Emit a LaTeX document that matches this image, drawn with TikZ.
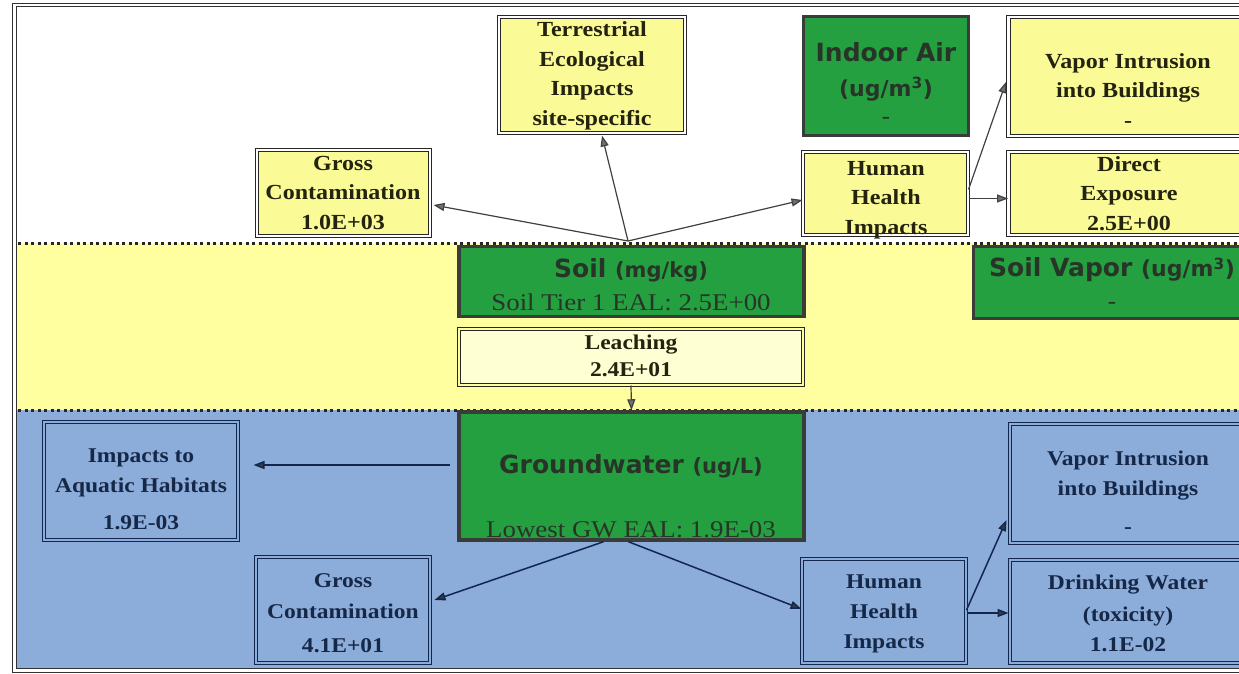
\documentclass[tikz,border=0pt]{standalone}
\usepackage{fontspec}
\setmainfont{Liberation Serif}[FakeStretch=1.12]
\newfontfamily\gsans{DejaVu Sans}
\usetikzlibrary{arrows.meta}
\definecolor{ybox}{RGB}{250,250,150}
\definecolor{yband}{RGB}{255,255,160}
\definecolor{ypale}{RGB}{255,255,212}
\definecolor{bband}{RGB}{140,172,218}
\definecolor{gbox}{RGB}{36,160,64}
\definecolor{navy}{RGB}{18,38,78}
\definecolor{gborder}{RGB}{58,60,58}
\definecolor{ytext}{RGB}{35,35,15}
\definecolor{btext}{RGB}{22,40,72}
\definecolor{gtext}{RGB}{40,52,40}
\definecolor{arrgray}{RGB}{64,64,64}
\tikzset{
 yb/.style={draw=black!85, line width=1pt, double=white, double distance=2.5pt, fill=ybox, inner sep=0},
 bb/.style={draw=navy, line width=1pt, double=bband, double distance=2.5pt, fill=bband, inner sep=0},
 gb/.style={draw=gborder, line width=3.5pt, fill=gbox, inner sep=0},
 lb/.style={draw=black!85, line width=1pt, double=yband, double distance=2.5pt, fill=ypale, inner sep=0},
 ytx/.style={inner sep=0, align=center, text=ytext, font=\fontsize{21.5}{29.5}\selectfont\bfseries},
 btx/.style={inner sep=0, align=center, text=btext, font=\fontsize{21}{29.5}\selectfont\bfseries},
 gtx/.style={inner sep=0, align=center, text=gtext},
 dotline/.style={line width=3pt, dash pattern=on 3pt off 3.5pt, draw=black!85},
 arrT/.style={draw=arrgray, line width=1.2pt, -{Triangle[length=11pt,width=8pt,fill=arrgray!75]}},
 arrB/.style={draw=navy, line width=1.5pt, -{Triangle[length=11pt,width=8pt,fill=arrgray!80!navy]}},
}
\begin{document}
\begin{tikzpicture}[x=1pt,y=-1pt]
\useasboundingbox (0,0) rectangle (1239,674);
\clip (0,0) rectangle (1239,674);
% bands and frame
\fill[yband] (16,243) rectangle (1250,410);
\fill[bband] (16,410) rectangle (1250,669);
\draw[draw=black!80, line width=1pt, double=white, double distance=2.5pt] (14.5,5) rectangle (1262,670.5);
\draw[dotline] (18,243) -- (1239,243);
\draw[dotline] (18,410) -- (1239,410);

% ---- top band boxes
\node[yb, minimum width=173, minimum height=86] (gcT) at (343.5,193) {};
\node[ytx] (gcTt) at (343,194) {\strut Gross\\Contamination\\1.0E+03\strut};
\node[yb, minimum width=186, minimum height=116] (terr) at (592,75) {};
\node[ytx] (terrt) at (592,75) {\strut Terrestrial\\Ecological\\Impacts\\site-specific\strut};
\node[gb, minimum width=165, minimum height=119] (indoor) at (886,76) {};
\node[gtx, font=\fontsize{22}{33}\selectfont] (indoort) at (886,86) {\strut{\gsans\bfseries\fontsize{25}{33}\selectfont Indoor Air}\\[2pt]{\gsans\bfseries (ug/m\textsuperscript{3})}\\[-5.5pt]\bfseries -\strut};
\node[yb, minimum width=240, minimum height=119] (vapT) at (1128.5,76.5) {};
\node[ytx] (vapTt) at (1128,92) {\strut Vapor Intrusion\\into Buildings\\-\strut};
\node[yb, minimum width=165, minimum height=83] (hhT) at (885.5,193.5) {};
\node[ytx] (hhTt) at (886,199) {\strut Human\\Health\\Impacts\strut};
\node[yb, minimum width=240, minimum height=83] (direct) at (1128.5,193.5) {};
\node[ytx] (directt) at (1129,195) {\strut Direct\\Exposure\\2.5E+00\strut};

% ---- soil band
\node[gb, minimum width=345, minimum height=70] (soil) at (631.5,281.5) {};
\node[gtx, font=\fontsize{24}{33}\selectfont] (soilt) at (631,287) {\strut{\gsans\bfseries\fontsize{25}{33}\selectfont Soil \fontsize{21}{33}\selectfont(mg/kg)}\\Soil Tier 1 EAL: 2.5E+00\strut};
\node[lb, minimum width=344, minimum height=56] (leach) at (631,357) {};
\node[ytx, font=\fontsize{21}{27}\selectfont\bfseries] (leacht) at (631,358) {\strut Leaching\\2.4E+01\strut};
\node[gb, minimum width=285, minimum height=72] (svapor) at (1116,282.5) {};
\node[gtx, font=\fontsize{22}{32}\selectfont] (svapt) at (1112,286.5) {\strut{\gsans\bfseries\fontsize{25}{32}\selectfont Soil Vapor \fontsize{22}{32}\selectfont(ug/m\textsuperscript{3})}\\\bfseries -\strut};

% ---- groundwater band
\node[bb, minimum width=194, minimum height=118] (aquatic) at (141,481) {};
\node[btx] (aquatict) at (141,490) {\strut Impacts to\\[0.5pt]Aquatic Habitats\\[7.5pt]1.9E-03\strut};
\node[gb, minimum width=345, minimum height=128] (gw) at (631.5,476) {};
\node[gtx, font=\fontsize{24}{33}\selectfont] (gwt) at (631,499) {\strut{\gsans\bfseries\fontsize{25}{33}\selectfont Groundwater \fontsize{21}{33}\selectfont(ug/L)}\\[30.6pt]Lowest GW EAL: 1.9E-03\strut};
\node[bb, minimum width=238, minimum height=119] (vapB) at (1129,483.5) {};
\node[btx] (vapBt) at (1128,493.5) {\strut Vapor Intrusion\\[0.5pt]into Buildings\\[8.7pt]-\strut};
\node[bb, minimum width=174, minimum height=106] (gcB) at (343,610) {};
\node[btx] (gcBt) at (343,614) {\strut Gross\\[1.5pt]Contamination\\[4.5pt]4.1E+01\strut};
\node[bb, minimum width=164, minimum height=104] (hhB) at (884,611) {};
\node[btx] (hhBt) at (884,613) {\strut Human\\[0.5pt]Health\\[0.5pt]Impacts\strut};
\node[bb, minimum width=238, minimum height=103] (drink) at (1129,611.5) {};
\node[btx] (drinkt) at (1128,615) {\strut Drinking Water\\[2.5pt](toxicity)\\[0.5pt]1.1E-02\strut};

% ---- connectors
\coordinate (sT) at (628,241);
\draw[arrT] (sT) -- ([xshift=3pt,yshift=-12pt]gcT.east);
\draw[arrT] (sT) -- ([xshift=10pt,yshift=-2pt]terr.south);
\draw[arrT] (sT) -- ([yshift=-6.5pt]hhT.west);
\draw[arrT] ([yshift=4pt]hhT.east) -- ([xshift=-2pt,yshift=-5.5pt]vapT.west);
\draw[arrT] ([yshift=-5pt]hhT.east) -- ([yshift=-5pt]direct.west);
\draw[arrT] (leach.south) -- (gw.north);
\draw[arrB] ([xshift=-7pt,yshift=11pt]gw.west) -- ([xshift=15pt,yshift=16pt]aquatic.east);
\draw[arrB] ([xshift=-28pt]gw.south) -- ([xshift=4pt,yshift=10pt]gcB.east);
\draw[arrB] ([xshift=-3pt]gw.south) -- ([yshift=2pt]hhB.west);
\draw[arrB] ([yshift=1pt]hhB.east) -- ([xshift=-3pt,yshift=-36.5pt]vapB.west);
\draw[arrB] ([yshift=-2pt]hhB.east) -- ([xshift=-1pt,yshift=-1.5pt]drink.west);
\end{tikzpicture}
\end{document}
